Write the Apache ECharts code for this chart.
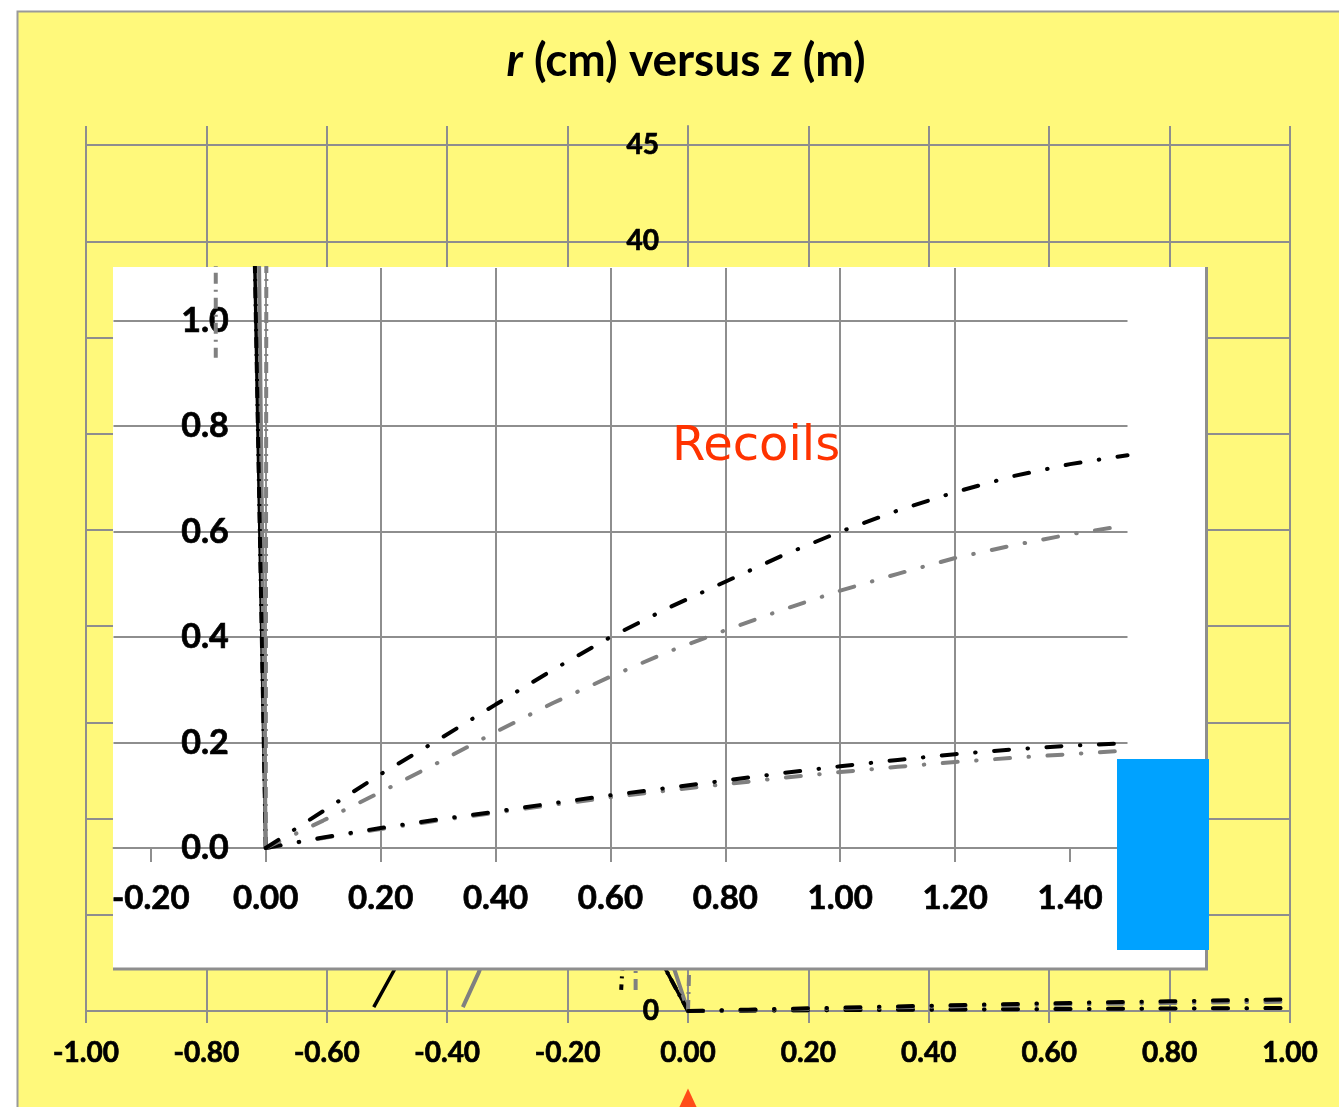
<!DOCTYPE html>
<html>
<head>
<meta charset="utf-8">
<script src="https://cdn.jsdelivr.net/npm/echarts@6/dist/echarts.min.js"></script>
<style>
  html, body { margin: 0; padding: 0; background: #ffffff; }
  #chart { width: 1339px; height: 1107px; }
</style>
</head>
<body>
<div id="chart"></div>
<script>
// ---- axis ticks -------------------------------------------------------
const outerZTicks = [-1.0, -0.8, -0.6, -0.4, -0.2, 0.0, 0.2, 0.4, 0.6, 0.8, 1.0];
const outerRTicks = [0, 5, 10, 15, 20, 25, 30, 35, 40, 45];
const insetZTicks = [-0.2, 0.0, 0.2, 0.4, 0.6, 0.8, 1.0, 1.2, 1.4];
const insetRTicks = [0.0, 0.2, 0.4, 0.6, 0.8, 1.0];

// ---- forward recoil tracks: z (m) vs r (cm) ---------------------------
const zRecoil = [0, 0.1, 0.2, 0.3, 0.4, 0.5, 0.6, 0.7, 0.8, 0.9, 1.0, 1.1, 1.2, 1.3, 1.4, 1.5];
const rRecoilBlackHigh = [0, 0.07, 0.14, 0.205, 0.272, 0.338, 0.40, 0.455, 0.505, 0.555, 0.60, 0.64, 0.675, 0.705, 0.728, 0.745];
const rRecoilGrayHigh  = [0, 0.052, 0.106, 0.162, 0.22, 0.275, 0.325, 0.372, 0.413, 0.452, 0.488, 0.52, 0.55, 0.574, 0.595, 0.612];
const rRecoilBlackLow  = [0, 0.02, 0.038, 0.054, 0.069, 0.085, 0.10, 0.114, 0.128, 0.142, 0.155, 0.167, 0.178, 0.187, 0.194, 0.199];
const rRecoilGrayLow   = [0, 0.019, 0.036, 0.052, 0.067, 0.082, 0.096, 0.109, 0.121, 0.133, 0.144, 0.154, 0.163, 0.171, 0.178, 0.185];

// ---- backward tracks (z < 0) ------------------------------------------
const zBackBlackSolid = [0, -0.036, -0.1, -0.18, -0.265, -0.35, -0.43, -0.488, -0.522];
const rBackBlackSolid = [0, 2.1, 5.6, 8.6, 9.8, 8.6, 5.6, 2.13, 0.2];
const zBackGraySolid  = [0, -0.022, -0.07, -0.13, -0.19, -0.25, -0.31, -0.347, -0.374];
const rBackGraySolid  = [0, 2.1, 5.3, 7.9, 8.7, 7.9, 5.3, 2.05, 0.2];
const zBackBlackDash  = [0, -0.036, -0.055, -0.08, -0.1, -0.109, -0.111];
const rBackBlackDash  = [0, 2.1, 8.0, 9.5, 6.0, 2.2, 1.1];
const zBackGrayDash   = [0, 0.001, 0.002, -0.02, -0.06, -0.085, -0.087, -0.087];
const rBackGrayDash   = [0, 1.1, 2.3, 9.0, 11.0, 6.0, 2.2, 0.93];

// target marker below the axis
const targetZ = [0];
const targetR = [-4.7];

// ---- layout ----------------------------------------------------------
const OUTER = { left: 86, right: 49, top: 126, bottom: 96, zMin: -1, zMax: 1 };
const INSET = { left: 113.5, right: 211.5, top: 268, bottom: 259, zMin: -0.265, zMax: 1.5 };
const WIDTH = 1339;
// horizontal distance from a grid's left edge to z = 0, so the r axis sits on z = 0
function zeroOffset(g) {
  const w = WIDTH - g.left - g.right;
  return -w * (0 - g.zMin) / (g.zMax - g.zMin);
}

// ---- helpers ---------------------------------------------------------
const zip = (xs, ys) => xs.map((x, i) => [x, ys[i]]);
const GRID = '#8e8e8e';
const BLACK = '#000000';
const GRAY = '#808080';
const FONT = 'Lato, "Open Sans", sans-serif';
const DASH_DOT = [15, 18.5, 0.5, 18.5];
const SHORT_DASH_DOT = [11, 6, 2, 6];

// heavy label style
function labelStyle(size) {
  return {
    color: '#000', fontSize: size, fontWeight: 'bold', fontFamily: FONT,
    textBorderColor: '#000', textBorderWidth: 0.7
  };
}

function trackSeries(axis, z, name, data, color, width, type, cap) {
  return {
    name: name,
    type: 'line',
    xAxisIndex: axis,
    yAxisIndex: axis,
    data: data,
    symbol: 'none',
    silent: true,
    z: z,
    lineStyle: { color: color, width: width, type: type, cap: cap || 'butt' }
  };
}

function allTracks(axis, z) {
  return [
    trackSeries(axis, z, 'back-black-solid', zip(zBackBlackSolid, rBackBlackSolid), BLACK, 3.5, 'solid'),
    trackSeries(axis, z, 'back-gray-solid', zip(zBackGraySolid, rBackGraySolid), GRAY, 4, 'solid'),
    trackSeries(axis, z, 'back-black-dash', zip(zBackBlackDash, rBackBlackDash), BLACK, 4, SHORT_DASH_DOT),
    trackSeries(axis, z, 'back-gray-dash', zip(zBackGrayDash, rBackGrayDash), GRAY, 4, SHORT_DASH_DOT),
    trackSeries(axis, z, 'recoil-gray-low', zip(zRecoil, rRecoilGrayLow), GRAY, 4, DASH_DOT, 'round'),
    trackSeries(axis, z, 'recoil-black-low', zip(zRecoil, rRecoilBlackLow), BLACK, 4, DASH_DOT, 'round'),
    trackSeries(axis, z, 'recoil-gray-high', zip(zRecoil, rRecoilGrayHigh), GRAY, 4, DASH_DOT, 'round'),
    trackSeries(axis, z, 'recoil-black-high', zip(zRecoil, rRecoilBlackHigh), BLACK, 4, DASH_DOT, 'round')
  ];
}

const chart = echarts.init(document.getElementById('chart'), null, { renderer: 'canvas' });

const option = {
  animation: false,
  backgroundColor: '#fff97b',
  grid: [
    { left: OUTER.left, right: OUTER.right, top: OUTER.top, bottom: OUTER.bottom },
    { left: INSET.left, right: INSET.right, top: INSET.top, bottom: INSET.bottom }
  ],
  xAxis: [
    {
      gridIndex: 0, type: 'value', min: OUTER.zMin, max: OUTER.zMax, interval: 0.2, z: 0,
      axisLine: { onZero: true, lineStyle: { color: GRID, width: 2 } },
      axisTick: { show: true, inside: false, length: 12, lineStyle: { color: GRID, width: 2 } },
      axisLabel: Object.assign(labelStyle(28), {
        customValues: outerZTicks, margin: 28,
        formatter: v => v.toFixed(2)
      }),
      splitLine: { show: true, lineStyle: { color: GRID, width: 2 } }
    },
    {
      gridIndex: 1, type: 'value', min: INSET.zMin, max: INSET.zMax, minInterval: 0.2, maxInterval: 0.2, splitNumber: 9, z: 11,
      axisLine: { onZero: true, lineStyle: { color: GRID, width: 2 } },
      axisTick: { show: true, inside: false, length: 14, customValues: insetZTicks, lineStyle: { color: GRID, width: 2 } },
      axisLabel: Object.assign(labelStyle(33), {
        customValues: insetZTicks, margin: 34,
        formatter: v => v.toFixed(2)
      }),
      splitLine: { show: true, showMinLine: false, showMaxLine: false, lineStyle: { color: GRID, width: 2 } }
    }
  ],
  yAxis: [
    {
      gridIndex: 0, type: 'value', min: 0, max: 46, interval: 5, z: 0,
      position: 'left', offset: zeroOffset(OUTER),
      axisLine: { onZero: false, lineStyle: { color: GRID, width: 2 } },
      axisTick: { show: false },
      axisLabel: Object.assign(labelStyle(28), {
        customValues: outerRTicks, margin: 29,
        formatter: v => String(v)
      }),
      splitLine: { show: true, showMaxLine: false, lineStyle: { color: GRID, width: 2 } }
    },
    {
      gridIndex: 1, type: 'value', min: 0, max: 1.1, interval: 0.2, z: 11,
      position: 'left', offset: zeroOffset(INSET),
      axisLine: { onZero: false, lineStyle: { color: GRID, width: 2 } },
      axisTick: { show: false },
      axisLabel: Object.assign(labelStyle(34), {
        customValues: insetRTicks, margin: 37,
        formatter: v => v.toFixed(1)
      }),
      splitLine: { show: true, showMaxLine: false, lineStyle: { color: GRID, width: 2 } }
    }
  ],
  series: [].concat(
    allTracks(0, 2),
    [{
      name: 'target',
      type: 'scatter',
      xAxisIndex: 0, yAxisIndex: 0,
      data: zip(targetZ, targetR),
      symbol: 'triangle',
      symbolSize: [24, 26],
      clip: false,
      silent: true,
      z: 3,
      itemStyle: { color: '#ff2200' }
    }],
    allTracks(1, 12)
  ),
  graphic: [
    // page margin and frame
    { type: 'rect', z: 1, shape: { x: 0, y: 0, width: 17, height: 1107 }, style: { fill: '#ffffff' }, silent: true },
    { type: 'rect', z: 1, shape: { x: 0, y: 0, width: 1339, height: 11 }, style: { fill: '#ffffff' }, silent: true },
    { type: 'polyline', z: 1, shape: { points: [[17.5, 1107], [17.5, 11.5], [1339, 11.5]] },
      style: { stroke: '#9a9a9a', lineWidth: 2, fill: null }, silent: true },
    // title
    { type: 'text', z: 5, x: 686, y: 61,
      style: {
        text: '{i|r} (cm) versus {i|z} (m)',
        fontSize: 46, fontWeight: 'bold', fontFamily: FONT, fill: '#000',
        align: 'center', verticalAlign: 'middle',
        rich: { i: { fontStyle: 'italic', fontSize: 46, fontWeight: 'bold', fontFamily: FONT, fill: '#000' } }
      }, silent: true },
    // magnified panel backing and its edge
    { type: 'rect', z: 10, shape: { x: 113, y: 267, width: 1093, height: 701 }, style: { fill: '#ffffff' }, silent: true },
    { type: 'polyline', z: 10, shape: { points: [[1206.5, 267], [1206.5, 969], [113, 969]] },
      style: { stroke: '#8e8e8e', lineWidth: 3, fill: null }, silent: true },
    // annotation
    { type: 'text', z: 13, x: 672, y: 448,
      style: { text: 'Recoils', fontSize: 48, fontFamily: '"Comic Sans MS", "DejaVu Sans", sans-serif', fill: '#ff3300',
        align: 'left', verticalAlign: 'middle' }, silent: true },
    { type: 'rect', z: 14, shape: { x: 1117, y: 759, width: 92, height: 191 }, style: { fill: '#00a2ff' }, silent: true }
  ]
};

chart.setOption(option);
</script>
</body>
</html>
